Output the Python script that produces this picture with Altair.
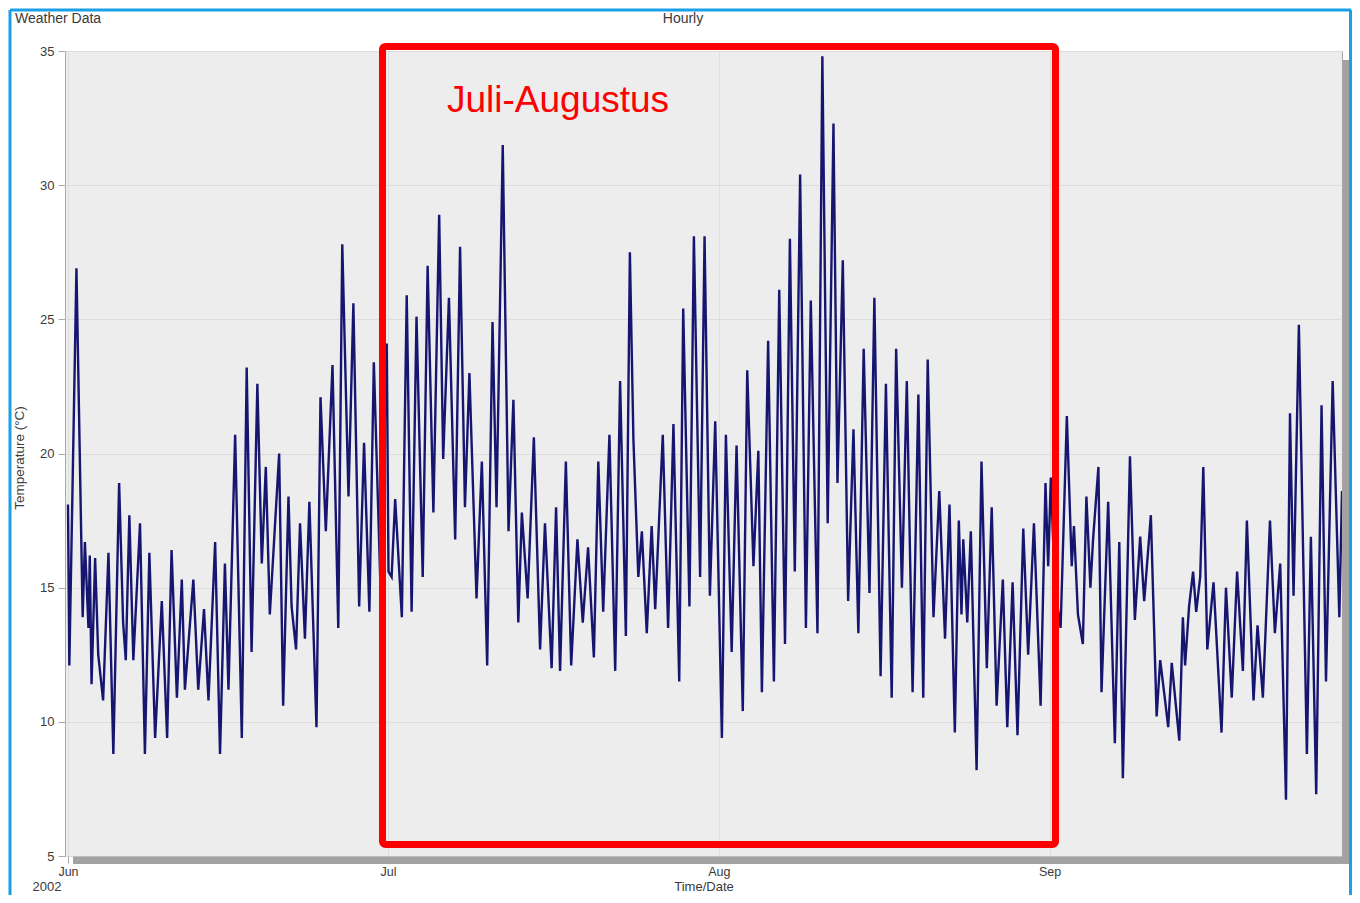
import altair as alt
import pandas as pd

# Hours since 2002-06-01 00:00 at which the trace turns
HOURS = [0, 3, 19, 33, 38, 46, 49, 53, 61, 68, 79, 91, 102, 115, 124, 130, 138, 147, 162, 173,
         183, 196, 211, 223, 233, 245, 256, 263, 282, 293, 306, 316, 331, 342, 353, 361, 376, 391, 402, 413,
         426, 436, 445, 454, 475, 484, 496, 503, 513, 522, 533, 543, 559, 568, 580, 595, 608, 617, 631, 642,
         655, 666, 678, 688, 703, 717, 721, 728, 736, 751, 762, 773, 784, 798, 809, 822, 835, 844, 857, 871,
         882, 893, 903, 919, 931, 943, 955, 964, 978, 991, 1002, 1013, 1021, 1034, 1048, 1062, 1073, 1088, 1098, 1107,
         1120, 1132, 1146, 1158, 1170, 1183, 1193, 1204, 1218, 1231, 1242, 1255, 1264, 1272, 1283, 1291, 1302, 1313, 1321, 1338,
         1350, 1362, 1375, 1384, 1398, 1408, 1422, 1432, 1444, 1456, 1471, 1480, 1493, 1504, 1518, 1528, 1542, 1553, 1561, 1575,
         1588, 1600, 1613, 1624, 1635, 1647, 1660, 1671, 1686, 1697, 1709, 1722, 1731, 1743, 1755, 1767, 1778, 1790, 1803, 1814,
         1828, 1840, 1853, 1863, 1876, 1887, 1900, 1913, 1924, 1934, 1947, 1960, 1973, 1983, 1995, 2004, 2010, 2014, 2023, 2031,
         2044, 2055, 2067, 2078, 2089, 2103, 2113, 2125, 2136, 2149, 2160, 2173, 2188, 2199, 2205, 2211, 2220, 2233, 2247, 2258,
         2263, 2272, 2283, 2291, 2300, 2306, 2318, 2325, 2340, 2355, 2365, 2373, 2389, 2400, 2412, 2421, 2436, 2449, 2457, 2468,
         2475, 2483, 2500, 2508, 2513, 2522, 2531, 2538, 2547, 2554, 2563, 2577, 2595, 2605, 2618, 2630, 2643, 2652, 2667, 2676,
         2688, 2704, 2715, 2727, 2740, 2749, 2757, 2769, 2787, 2796, 2808, 2820, 2830, 2845, 2860, 2866]

TEMPS = [18.1, 12.1, 26.9, 13.9, 16.7, 13.5, 16.2, 11.4, 16.1, 12.5, 10.8, 16.3, 8.8, 18.9, 13.7, 12.3, 17.7, 12.3, 17.4, 8.8,
         16.3, 9.4, 14.5, 9.4, 16.4, 10.9, 15.3, 11.2, 15.3, 11.2, 14.2, 10.8, 16.7, 8.8, 15.9, 11.2, 20.7, 9.4, 23.2, 12.6,
         22.6, 15.9, 19.5, 14.0, 20.0, 10.6, 18.4, 14.3, 12.7, 17.4, 13.1, 18.2, 9.8, 22.1, 17.1, 23.3, 13.5, 27.8, 18.4, 25.6,
         14.3, 20.4, 14.1, 23.4, 15.0, 24.1, 15.6, 15.4, 18.3, 13.9, 25.9, 14.1, 25.1, 15.4, 27.0, 17.8, 28.9, 19.8, 25.8, 16.8,
         27.7, 18.0, 23.0, 14.6, 19.7, 12.1, 24.9, 18.0, 31.5, 17.1, 22.0, 13.7, 17.8, 14.6, 20.6, 12.7, 17.4, 12.0, 18.0, 11.9,
         19.7, 12.1, 16.8, 13.7, 16.5, 12.4, 19.7, 14.1, 20.7, 11.9, 22.7, 13.2, 27.5, 20.5, 15.4, 17.1, 13.3, 17.3, 14.2, 20.7,
         13.5, 21.1, 11.5, 25.4, 14.3, 28.1, 15.4, 28.1, 14.7, 21.2, 9.4, 20.7, 12.6, 20.3, 10.4, 23.1, 15.8, 20.1, 11.1, 24.2,
         11.5, 26.1, 12.9, 28.0, 15.6, 30.4, 13.5, 25.7, 13.3, 34.8, 17.4, 32.3, 18.9, 27.2, 14.5, 20.9, 13.3, 23.9, 14.8, 25.8,
         11.7, 22.6, 10.9, 23.9, 15.0, 22.7, 11.1, 22.2, 10.9, 23.5, 13.9, 18.6, 13.1, 18.1, 9.6, 17.5, 14.0, 16.8, 13.7, 17.1,
         8.2, 19.7, 12.0, 18.0, 10.6, 15.3, 9.8, 15.2, 9.5, 17.2, 12.5, 17.4, 10.6, 18.9, 15.8, 19.1, 15.0, 13.5, 21.4, 15.8,
         17.3, 14.0, 12.9, 18.4, 15.0, 16.8, 19.5, 11.1, 18.2, 9.2, 16.7, 7.9, 19.9, 13.8, 16.9, 14.5, 17.7, 10.2, 12.3, 10.8,
         9.8, 12.2, 9.3, 13.9, 12.1, 14.3, 15.6, 14.1, 15.4, 19.5, 12.7, 15.2, 9.6, 15.0, 10.9, 15.6, 11.9, 17.5, 10.8, 13.6,
         10.9, 17.5, 13.3, 15.9, 7.1, 21.5, 14.7, 24.8, 8.8, 16.9, 7.3, 21.8, 11.5, 22.7, 13.9, 18.6]

MONTH_TICKS = ["2002-06-01", "2002-07-01", "2002-08-01", "2002-09-01"]
Y_TICKS = [5, 10, 15, 20, 25, 30, 35]

# annotation box (Juli-Augustus)
BOX = {"start": "2002-06-30T11:30:00", "end": "2002-09-01T13:30:00", "top": 35.17, "bottom": 5.43}
LABEL = {"time": "2002-07-06T12:36:00", "temp": 32.71, "text": "Juli-Augustus"}

start = pd.Timestamp("2002-06-01 00:00")
df = pd.DataFrame({
    "time": [start + pd.Timedelta(hours=h) for h in HOURS],
    "temp": TEMPS,
})
box_df = pd.DataFrame([BOX])
label_df = pd.DataFrame([LABEL])
one = pd.DataFrame({"k": [0]})

FONT = "Liberation Sans"
TXT = "#3a3a3a"
W, H = 1277, 805

xscale = alt.Scale(domain=[alt.DateTime(year=2002, month=5, date=31, hours=17, minutes=15),
                           alt.DateTime(year=2002, month=9, date=28, hours=10)], nice=False)
yscale = alt.Scale(domain=[5, 35], nice=False, zero=False)

x_axis = alt.Axis(values=[alt.DateTime(year=2002, month=int(m[5:7]), date=1) for m in MONTH_TICKS],
                  format="%b", title=None, grid=True, gridColor="#dedede", domain=False,
                  tickSize=7, tickColor="#a8a8a8", labelPadding=2, labelFontSize=12.5,
                  labelColor=TXT, labelFont=FONT)
y_axis = alt.Axis(values=Y_TICKS, title=None, grid=True, gridColor="#dcdcdc", domain=False,
                  tickSize=7, tickColor="#a8a8a8", labelPadding=4, labelFontSize=13,
                  labelColor=TXT, labelFont=FONT)

line = alt.Chart(df).mark_line(color="#161670", strokeWidth=2.4, clip=True).encode(
    x=alt.X("time:T", scale=xscale, axis=x_axis),
    y=alt.Y("temp:Q", scale=yscale, axis=y_axis),
)

shadow_right = alt.Chart(one).mark_rect(color="#a2a2a2").encode(
    x=alt.value(W + 0.5), x2=alt.value(W + 7), y=alt.value(9), y2=alt.value(H + 8))
shadow_bottom = alt.Chart(one).mark_rect(color="#a2a2a2").encode(
    x=alt.value(8), x2=alt.value(W + 7), y=alt.value(H + 0.5), y2=alt.value(H + 8))

box = alt.Chart(box_df).mark_rect(fill=None, fillOpacity=0, stroke="#ff0000", strokeWidth=7,
                                 cornerRadius=3, clip=False).encode(
    x=alt.X("start:T", scale=xscale), x2="end:T",
    y=alt.Y("top:Q", scale=yscale), y2="bottom:Q")

label = alt.Chart(label_df).mark_text(color="#ff0000", fontSize=37, font=FONT, align="left",
                                     baseline="alphabetic").encode(
    x=alt.X("time:T", scale=xscale), y=alt.Y("temp:Q", scale=yscale), text="text:N")

def txt(s, x, y, align="left", angle=0, size=14):
    kw = dict(text=s, font=FONT, fontSize=size, color=TXT, align=align, baseline="middle")
    if angle:
        kw["angle"] = angle
    return alt.Chart(one).mark_text(**kw).encode(x=alt.value(x), y=alt.value(y))

t_weather = txt("Weather Data", -50, -32)
t_hourly = txt("Hourly", 618, -32, align="center")
t_ytitle = txt("Temperature (°C)", -45, 407, align="center", angle=270, size=13.5)
t_year = txt("2002", -18, 835.5, align="center", size=13)
t_xtitle = txt("Time/Date", 639, 836, align="center", size=13)

BLUE = "#1aa0e6"
frame_top = alt.Chart(one).mark_rule(color=BLUE, strokeWidth=3).encode(
    x=alt.value(-55), x2=alt.value(W + 9), y=alt.value(-41))
frame_left = alt.Chart(one).mark_rule(color=BLUE, strokeWidth=3).encode(
    x=alt.value(-55), y=alt.value(-41), y2=alt.value(H + 40))
frame_right = alt.Chart(one).mark_rule(color=BLUE, strokeWidth=3).encode(
    x=alt.value(W + 8.5), y=alt.value(-41), y2=alt.value(H + 40))

chart = alt.layer(
    shadow_right, shadow_bottom, line, box, label,
    t_weather, t_hourly, t_ytitle, t_year, t_xtitle, frame_top, frame_left, frame_right,
).properties(
    width=W, height=H,
    autosize=alt.AutoSizeParams(type="none"),
    padding={"left": 57, "top": 43, "right": 10, "bottom": 39},
    background="white",
).configure_view(
    fill="#ededee", stroke="#a9a9a9", strokeWidth=1,
)

chart.save("out.html", embed_options={"renderer": "svg", "actions": False})
